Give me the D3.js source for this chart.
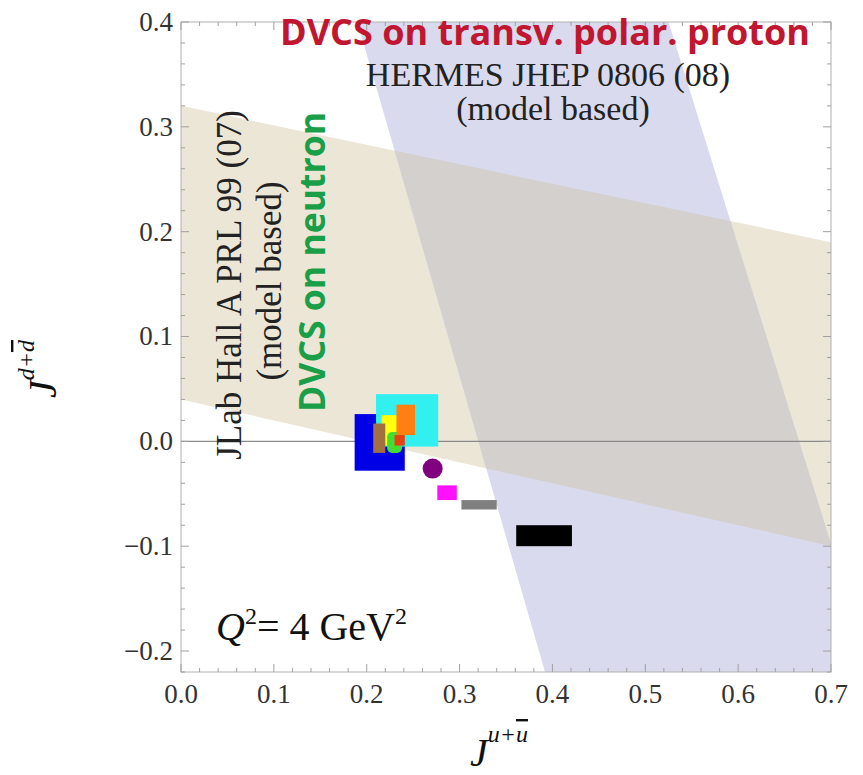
<!DOCTYPE html>
<html><head><meta charset="utf-8">
<script src="https://cdn.jsdelivr.net/npm/d3@7"></script>
<style>body{margin:0;background:#fff}svg{display:block}</style>
</head><body>
<script>
// ---- data ----
const xTicks = [0.0,0.1,0.2,0.3,0.4,0.5,0.6,0.7];
const yTicks = [-0.2,-0.1,0.0,0.1,0.2,0.3,0.4];
// model-based constraint bands (polygon vertices in data units)
const jlabBand = [[0,0.32],[0.7,0.19],[0.7,-0.10],[0,0.04]];
const hermesBand = [[0.19,0.4],[0.525,0.4],[0.743,-0.22],[0.392,-0.22]];
// model boxes: [xmin, xmax, ymin, ymax, colour]
const boxNames  = ["blue","cyan","yellow","brown","green","orange","red","magenta","gray","black"];
const boxX0 = [0.187,0.210,0.216,0.207,0.222,0.232,0.230,0.276,0.302,0.361];
const boxX1 = [0.241,0.277,0.233,0.220,0.238,0.252,0.241,0.297,0.340,0.421];
const boxY0 = [-0.028,-0.005,-0.004,-0.011,-0.011,0.006,-0.004,-0.056,-0.065,-0.100];
const boxY1 = [0.026,0.045,0.025,0.017,0.009,0.035,0.006,-0.042,-0.056,-0.080];
const boxColors = ["#0000e6","#33f0f0","#ffff10","#a07040","#44dd33","#ff8010","#e84010","#ff10ff","#808080","#000000"];
const circleX = [0.271], circleY = [-0.026], circleColors = ["#800080"];

// ---- scales ----
const W=863,H=775;
const x = d3.scaleLinear().domain([0,0.7]).range([181,831]);
const y = d3.scaleLinear().domain([-0.22,0.4]).range([672,22]);

const svg = d3.select("body").append("svg").attr("width",W).attr("height",H);
const defs = svg.append("defs");
defs.append("clipPath").attr("id","frame").append("rect")
  .attr("x",x(0)).attr("y",y(0.4)).attr("width",x(0.7)-x(0)).attr("height",y(-0.22)-y(0.4));
const line = d3.line().x(d=>x(d[0])).y(d=>y(d[1]));
defs.append("clipPath").attr("id","jlabclip").append("path").attr("d",line(jlabBand)+"Z");

const g = svg.append("g").attr("clip-path","url(#frame)");
g.append("path").attr("d",line(jlabBand)+"Z").attr("fill","#ece6d7");
g.append("path").attr("d",line(hermesBand)+"Z").attr("fill","#d9daed");
g.append("g").attr("clip-path","url(#jlabclip)").append("path")
  .attr("d",line(hermesBand)+"Z").attr("fill","#d4d0cd");

// zero line
g.append("line").attr("x1",x(0)).attr("x2",x(0.7)).attr("y1",y(0)).attr("y2",y(0))
  .attr("stroke","#8a8a8a").attr("stroke-width",1.2);

// frame + ticks
const tickCol="#a0a0a0";
svg.append("rect").attr("x",x(0)).attr("y",y(0.4)).attr("width",x(0.7)-x(0)).attr("height",y(-0.22)-y(0.4))
  .attr("fill","none").attr("stroke","#b0b0b0").attr("stroke-width",1);
const ax = svg.append("g").attr("stroke",tickCol).attr("stroke-width",1);
d3.range(0,36).map(i=>i*0.02).filter(v=>v<=0.7001).forEach(v=>{
  const major = Math.abs(v*10-Math.round(v*10))<1e-6;
  const L = major?8:4;
  ax.append("line").attr("x1",x(v)).attr("x2",x(v)).attr("y1",y(-0.22)).attr("y2",y(-0.22)-L);
  ax.append("line").attr("x1",x(v)).attr("x2",x(v)).attr("y1",y(0.4)).attr("y2",y(0.4)+L);
});
d3.range(-11,21).map(i=>i*0.02).forEach(v=>{
  const major = Math.abs(v*10-Math.round(v*10))<1e-6;
  const L = major?8:4;
  ax.append("line").attr("y1",y(v)).attr("y2",y(v)).attr("x1",x(0)).attr("x2",x(0)+L);
  ax.append("line").attr("y1",y(v)).attr("y2",y(v)).attr("x1",x(0.7)).attr("x2",x(0.7)-L);
});

// tick labels
const serif = "'Liberation Serif','Times New Roman',serif";
const fmt = v => (v<0?"\u2212":"")+Math.abs(v).toFixed(1);
svg.append("g").selectAll("text").data(xTicks).join("text")
  .attr("x",d=>x(d)).attr("y",703).attr("text-anchor","middle")
  .attr("font-family",serif).attr("font-size",27).attr("fill","#333").text(fmt);
svg.append("g").selectAll("text").data(yTicks).join("text")
  .attr("x",173).attr("y",d=>y(d)).attr("dy","0.33em").attr("text-anchor","end")
  .attr("font-family",serif).attr("font-size",27).attr("fill","#333").text(fmt);

// boxes and circle
const mk = svg.append("g");
mk.selectAll("rect").data(boxNames).join("rect")
  .attr("x",(d,i)=>x(boxX0[i])).attr("width",(d,i)=>x(boxX1[i])-x(boxX0[i]))
  .attr("y",(d,i)=>y(boxY1[i])).attr("height",(d,i)=>y(boxY0[i])-y(boxY1[i]))
  .attr("rx",(d,i)=>d==="green"?5:0)
  .attr("fill",(d,i)=>boxColors[i]);
mk.selectAll("circle").data(circleX).join("circle")
  .attr("cx",(d)=>x(d)).attr("cy",(d,i)=>y(circleY[i])).attr("r",10).attr("fill",(d,i)=>circleColors[i]);

// texts
const sans = "'Open Sans','Noto Sans',sans-serif";
svg.append("text").attr("x",545).attr("y",45).attr("text-anchor","middle")
  .attr("font-family",sans).attr("font-weight","bold").attr("font-size",35)
  .attr("textLength",530).attr("lengthAdjust","spacingAndGlyphs")
  .attr("fill","#c01630").text("DVCS on transv. polar. proton");
svg.append("text").attr("x",548).attr("y",86).attr("text-anchor","middle")
  .attr("font-family",serif).attr("font-size",34).attr("fill","#222").text("HERMES JHEP 0806 (08)");
svg.append("text").attr("x",553).attr("y",120).attr("text-anchor","middle")
  .attr("font-family",serif).attr("font-size",34).attr("fill","#222").text("(model based)");

svg.append("text").attr("transform","translate(241,285) rotate(-90)").attr("text-anchor","middle")
  .attr("font-family",serif).attr("font-size",35).attr("fill","#222").text("JLab Hall A PRL 99 (07)");
svg.append("text").attr("transform","translate(281,281) rotate(-90)").attr("text-anchor","middle")
  .attr("font-family",serif).attr("font-size",35).attr("fill","#222").text("(model based)");
svg.append("text").attr("transform","translate(325,262) rotate(-90)").attr("text-anchor","middle")
  .attr("font-family",sans).attr("font-weight","bold").attr("font-size",36)
  .attr("textLength",300).attr("lengthAdjust","spacingAndGlyphs")
  .attr("fill","#1a9e48").text("DVCS on neutron");

// Q^2 label
const q = svg.append("text").attr("x",216).attr("y",640).attr("font-family",serif).attr("font-size",40).attr("fill","#111");
q.append("tspan").attr("font-style","italic").text("Q");
q.append("tspan").attr("dy",-16).attr("font-size",24).text("2");
q.append("tspan").attr("dy",16).text("= 4 GeV");
q.append("tspan").attr("dy",-16).attr("font-size",24).text("2");

// axis titles
const xt = svg.append("text").attr("x",470).attr("y",766).attr("font-family",serif).attr("font-size",40).attr("fill","#111");
xt.append("tspan").attr("font-style","italic").text("J");
xt.append("tspan").attr("dy",-24).attr("font-size",24).attr("font-style","italic").text("u+");
xt.append("tspan").attr("font-size",24).attr("font-style","italic").attr("text-decoration","overline").text("u");

const yt = svg.append("text").attr("transform","translate(56,398) rotate(-90)").attr("font-family",serif).attr("font-size",40).attr("fill","#111");
yt.append("tspan").attr("font-style","italic").text("J");
yt.append("tspan").attr("dy",-22).attr("font-size",24).attr("font-style","italic").text("d+");
yt.append("tspan").attr("font-size",24).attr("font-style","italic").attr("text-decoration","overline").text("d");
</script>
</body></html>
